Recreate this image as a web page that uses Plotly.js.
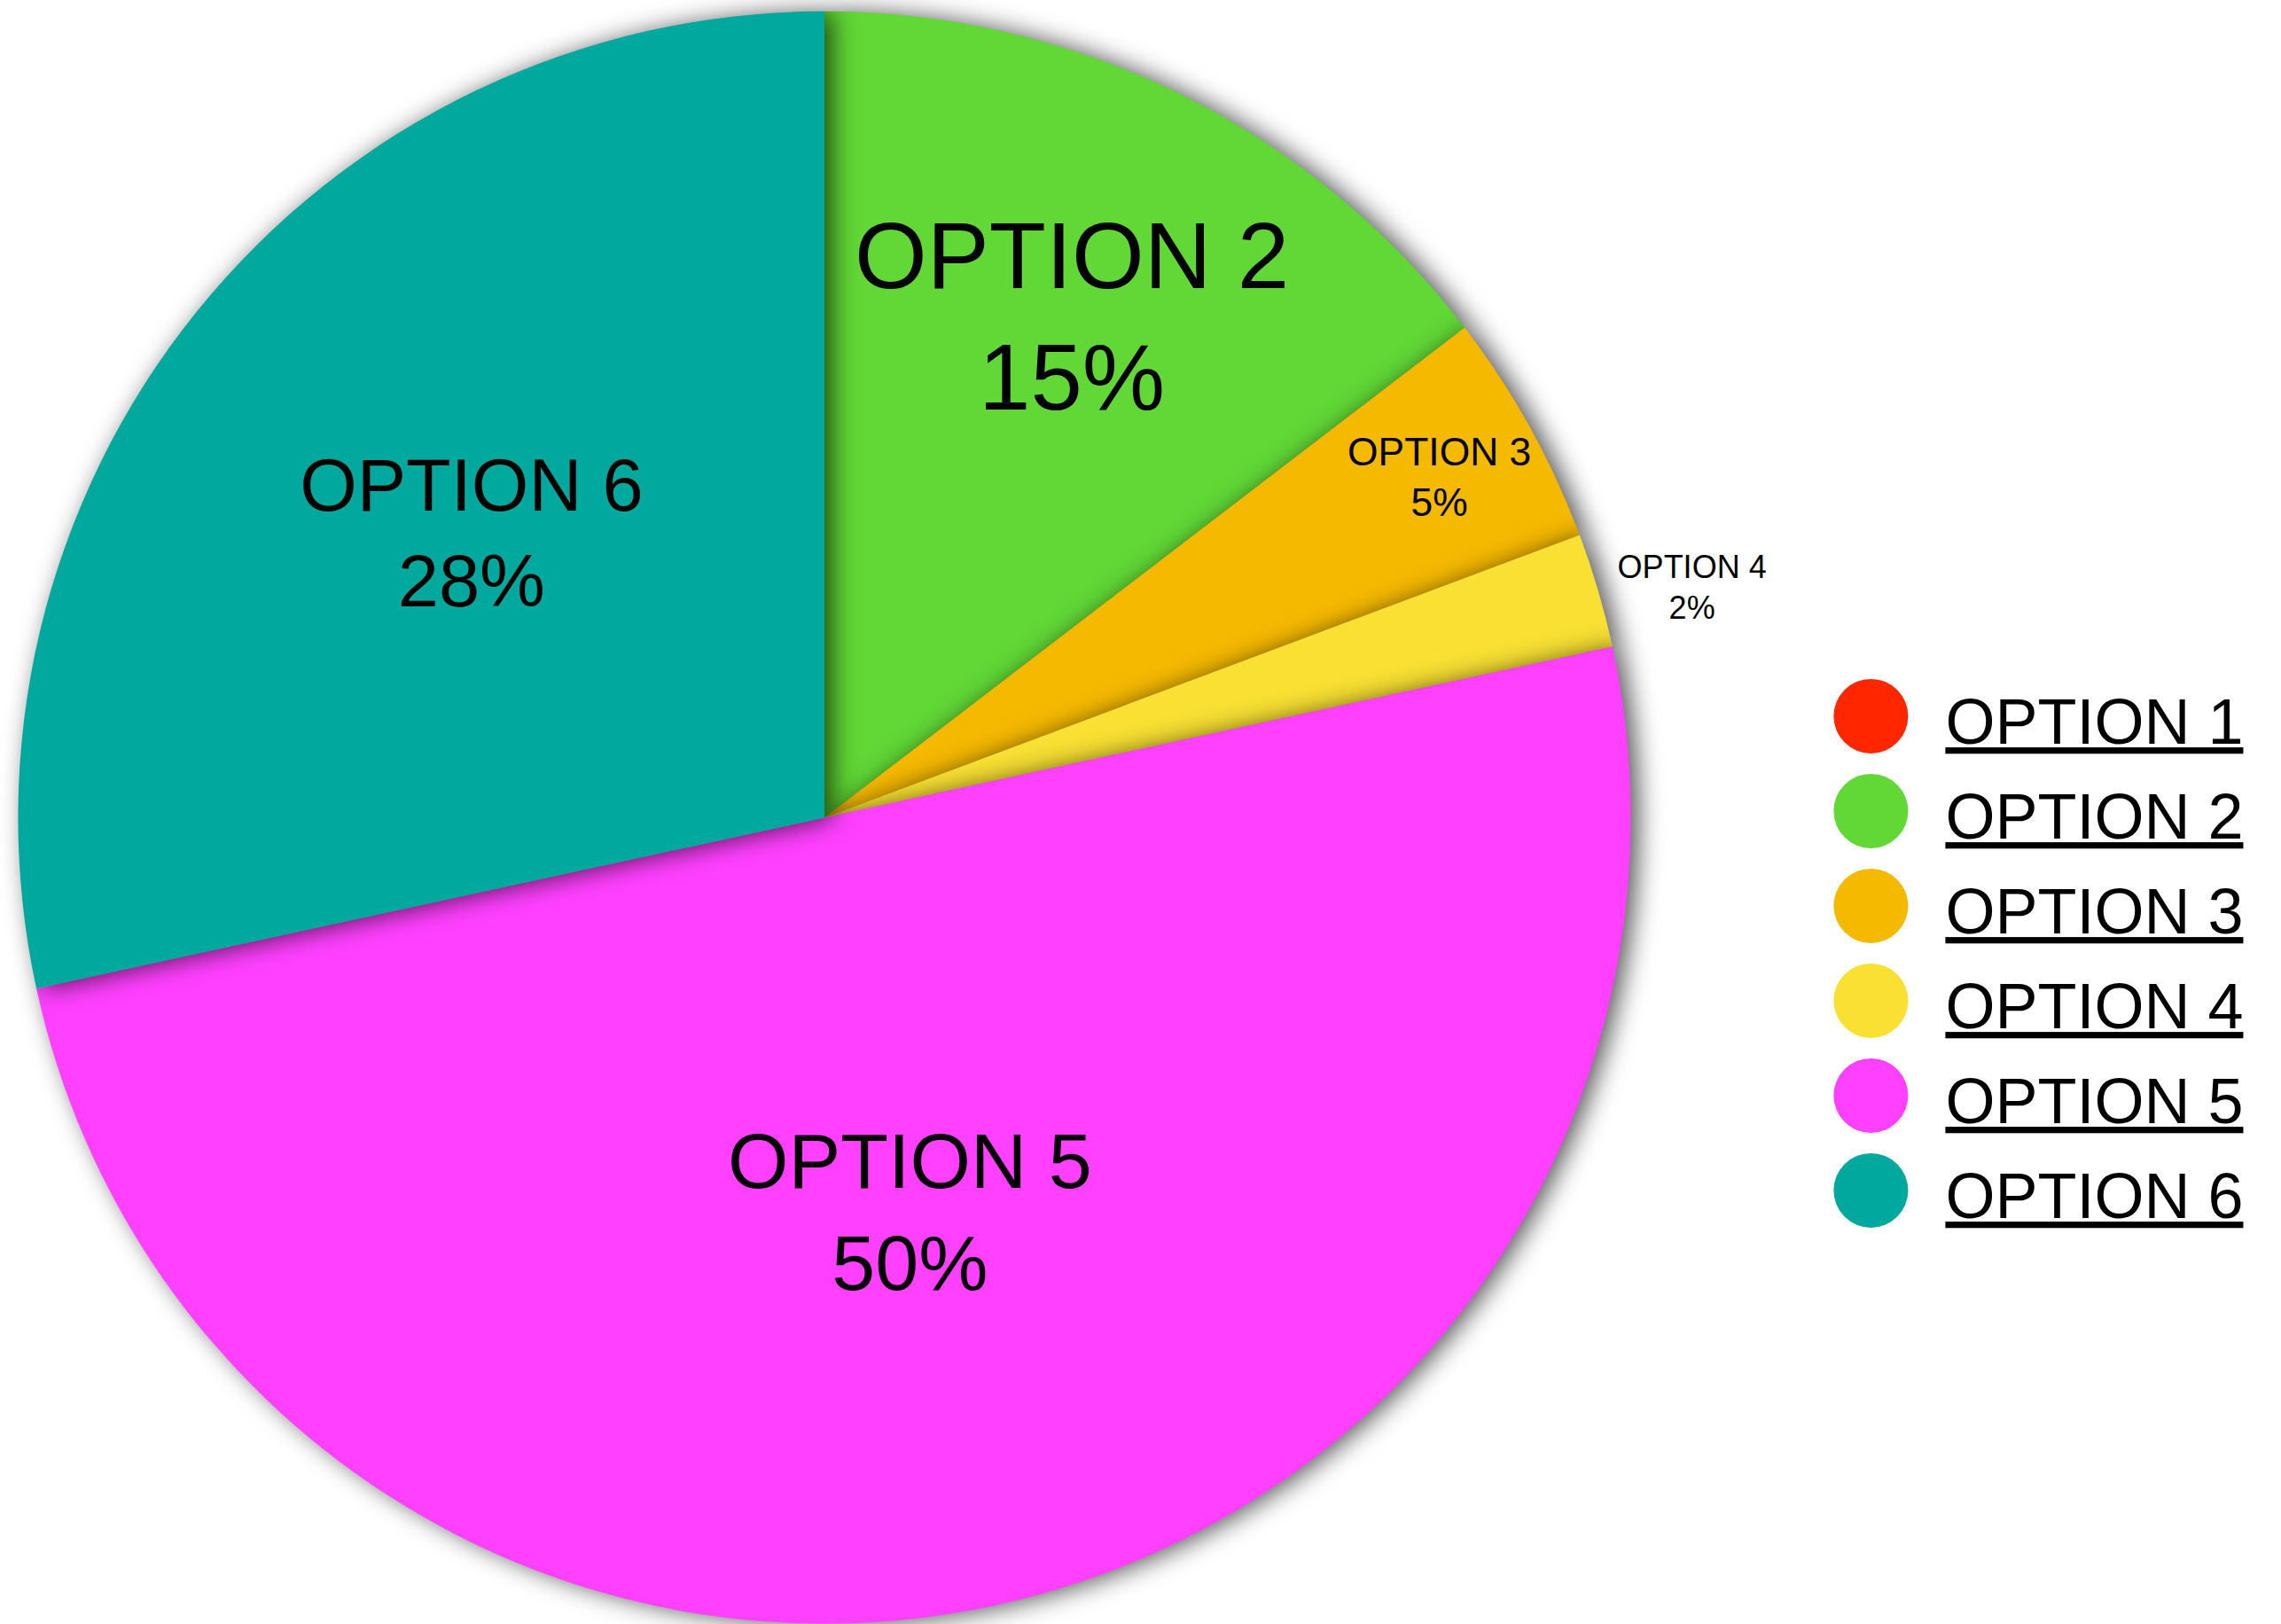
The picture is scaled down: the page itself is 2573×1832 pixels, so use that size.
<!DOCTYPE html>
<html><head><meta charset="utf-8">
<script src="https://cdn.plot.ly/plotly-3.0.1.min.js"></script>
<style>
html,body{margin:0;padding:0;background:#fff;overflow:hidden}
#chart{width:2573px;height:1832px}
.pielayer path.surface{filter:drop-shadow(9px 1px 14px rgba(0,0,0,0.65));}
</style></head><body><div id="chart"></div>
<script>
const labels = ['OPTION 1','OPTION 2','OPTION 3','OPTION 4','OPTION 5','OPTION 6'];
const values = [0, 14.6, 4.7, 2.3, 50.0, 28.4];
const colors = ['#FF2600','#61D836','#F5B900','#F9E033','#FF40FF','#00A89D'];

const FONT = 'Liberation Sans, Arial, sans-serif';
const textSizes = [10, 105, 60, 36, 88, 83];
const textPositions = ['none','inside','inside','outside','inside','inside'];
const legendLabels = labels.map(l => '<span style="font-size:72px"><u>' + l + '</u></span>');

const data = [{
  type: 'pie',
  labels: legendLabels,
  text: labels,
  values: values,
  sort: false,
  direction: 'clockwise',
  rotation: 0,
  marker: {colors: colors, line: {width: 0}},
  texttemplate: '%{text}<br>%{percent:.0%}',
  textposition: textPositions,
  insidetextorientation: 'horizontal',
  textfont: {family: FONT, size: textSizes, color: '#000'},
  insidetextfont: {family: FONT, size: textSizes, color: '#000'},
  outsidetextfont: {family: FONT, size: textSizes, color: '#000'},
  domain: {x: [20/2573, 1840/2573], y: [0, 0.993]},
  hoverinfo: 'none'
}];

const layout = {
  width: 2573, height: 1832,
  margin: {l: 0, r: 0, t: 0, b: 0},
  paper_bgcolor: '#fff',
  showlegend: true,
  legend: {
    x: 0.80, xanchor: 'left', y: 0.413, yanchor: 'middle',
    font: {family: FONT, size: 80, color: '#000'},
    itemwidth: 126,
    bgcolor: 'rgba(0,0,0,0)'
  }
};

Plotly.newPlot('chart', data, layout, {staticPlot: true}).then(function () {
  document.querySelectorAll('.legendpie').forEach(function (p) {
    p.setAttribute('d', 'M26,0A42,42 0 1,1 -58,0A42,42 0 1,1 26,0Z');
  });
});
</script>
</body></html>
